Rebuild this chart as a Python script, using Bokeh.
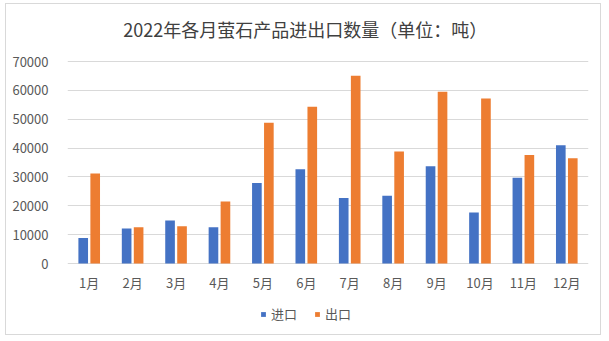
from bokeh.plotting import figure
from bokeh.models import (ColumnDataSource, FactorRange, Legend, LegendItem,
                          NumeralTickFormatter, FixedTicker)
from bokeh.core.properties import value
from bokeh.transform import dodge
from bokeh.embed import file_html
from bokeh.resources import INLINE

months = ["1月", "2月", "3月", "4月", "5月", "6月", "7月", "8月", "9月", "10月", "11月", "12月"]
imports = [8800, 12100, 14900, 12600, 27900, 32700, 22700, 23500, 33700, 17700, 29700, 41000]
exports = [31200, 12600, 12950, 21500, 48800, 54300, 65100, 38800, 59500, 57200, 37600, 36500]
series_names = ["进口", "出口"]
y_ticks = [0, 10000, 20000, 30000, 40000, 50000, 60000, 70000]
title_text = "2022年各月萤石产品进出口数量（单位：吨）"

src = ColumnDataSource(dict(m=months, imp=imports, exp=exports))

FONT = "Noto Sans CJK SC"
GRAY = "#595959"

# The frame spans nearly the whole chart box so that the title, month labels
# and legend can be placed inside it.
Y_MAX = 70000
PX = 202.0                      # pixels between 0 and 70000
below_px = 65                   # frame pixels below the zero line
above_px = 55                   # frame pixels above the 70000 line
per_px = Y_MAX / PX
y_start = -below_px * per_px
y_end = Y_MAX + above_px * per_px

p = figure(x_range=FactorRange(*months), y_range=(y_start, y_end), width=596, height=332,
           output_backend="svg", toolbar_location=None,
           min_border_left=62, min_border_right=13, min_border_top=3, min_border_bottom=7)
p.margin = (3, 0, 0, 5)
p.styles = {"box-shadow": "inset 0 0 0 1px #D9D9D9"}
p.border_fill_color = None
p.background_fill_color = None
p.title = None

r1 = p.vbar(x=dodge("m", -0.138, range=p.x_range), top="imp", width=0.222, source=src,
            color="#4472C4", line_color=None)
r2 = p.vbar(x=dodge("m", 0.138, range=p.x_range), top="exp", width=0.222, source=src,
            color="#ED7D31", line_color=None)

# chart title, centred over the chart box
p.text(x=["6月"], y=[Y_MAX + 33 * per_px], text=[title_text], x_offset=-1,
       text_font=value(FONT), text_font_size="18px", text_color="#404040",
       text_align="center", text_baseline="middle")

# month labels under the zero line
p.text(x="m", y=-19 * per_px, text="m", source=src, text_font=value(FONT), text_font_size="13px",
       text_color=GRAY, text_align="center", text_baseline="middle")

p.xaxis.visible = False
p.xgrid.grid_line_color = None
p.ygrid.ticker = FixedTicker(ticks=y_ticks)
p.ygrid.grid_line_color = "#D9D9D9"
p.ygrid.grid_line_width = 1
p.yaxis.ticker = FixedTicker(ticks=y_ticks)
p.yaxis.formatter = NumeralTickFormatter(format="0")
p.yaxis.axis_line_color = None
p.yaxis.major_tick_line_color = None
p.yaxis.minor_tick_line_color = None
p.yaxis.major_label_text_font = FONT
p.yaxis.major_label_text_font_size = "13px"
p.yaxis.major_label_text_color = GRAY
p.yaxis.major_label_standoff = 13
p.x_range.range_padding = 0
p.outline_line_color = None

legend = Legend(items=[LegendItem(label=series_names[0], renderers=[r1]),
                       LegendItem(label=series_names[1], renderers=[r2])],
                orientation="horizontal", location=(193, 5),
                label_text_font=FONT, label_text_font_size="13px", label_text_color=GRAY,
                glyph_width=6, glyph_height=6, spacing=17, label_standoff=5,
                label_height=16, border_line_color=None, background_fill_alpha=0,
                padding=0, margin=0)
p.add_layout(legend, "center")

open("out.html", "w").write(file_html(p, INLINE))
